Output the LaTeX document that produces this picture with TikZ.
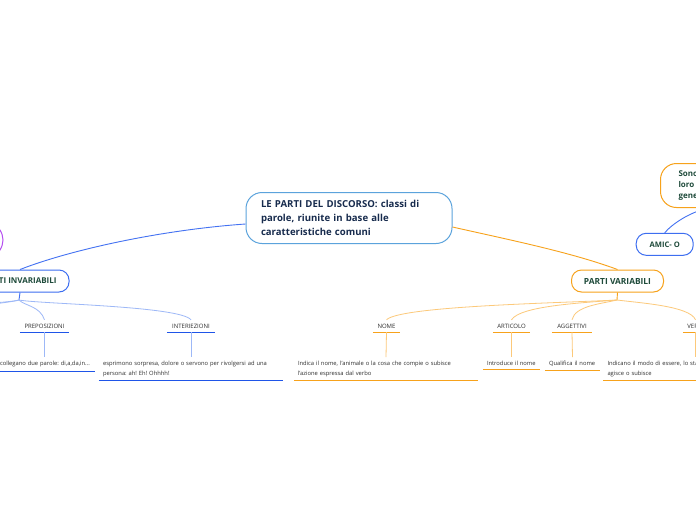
\documentclass[tikz,border=0pt]{standalone}
\usepackage{fontspec}
\setmainfont{Open Sans}
\frenchspacing
\usetikzlibrary{shapes.geometric}
\definecolor{bmain}{HTML}{4472F2}
\definecolor{bnode}{HTML}{3D6EF0}
\definecolor{bul}{HTML}{1F55E8}
\definecolor{blight}{HTML}{9DB8F7}
\definecolor{omain}{HTML}{F7A21B}
\definecolor{olight}{HTML}{FCC97A}
\definecolor{mainborder}{HTML}{5BA3DC}
\definecolor{navy}{HTML}{172B4D}
\definecolor{dgreen}{HTML}{1F4B3B}
\definecolor{tgray}{HTML}{2E2E2E}
\definecolor{purp}{HTML}{B44DF0}
\begin{document}
\begin{tikzpicture}[x=1pt,y=-1pt,
  topic/.style={draw, line width=1pt, rounded corners=10pt, inner sep=0pt,
    font=\fontsize{8}{11}\selectfont\bfseries, text=dgreen},
  topicB/.style={topic, draw=bnode},
  topicO/.style={topic, draw=omain},
  sub/.style={font=\fontsize{6}{7}\selectfont, text=tgray, minimum height=12pt, inner sep=0pt},
  desc/.style={font=\fontsize{5.8}{9.5}\selectfont, align=left, inner xsep=4pt, inner ysep=4pt, text=tgray, anchor=north},
  ulB/.style={draw=bul, line width=1.2pt},
  ulO/.style={draw=omain, line width=1.2pt},
  linkB/.style={draw=bmain, line width=0.9pt},
  linkO/.style={draw=omain, line width=0.9pt},
  lightB/.style={draw=blight, line width=0.8pt},
  lightO/.style={draw=olight, line width=0.8pt}]
\useasboundingbox (0,0) rectangle (696,520);
\clip (0,0) rectangle (696,520);
\fill[white] (0,0) rectangle (696,520);

% main node
\node[draw=mainborder, line width=1pt, rounded corners=16pt, minimum width=206pt, minimum height=51pt,
  inner xsep=15pt, align=left, text width=176pt, text=navy,
  font=\fontsize{9.6}{13.7}\selectfont\bfseries] (main) at (349,218)
  {LE PARTI DEL DISCORSO: classi di\\parole, riunite in base alle\\caratteristiche comuni};

% left side
\node[draw=purp, line width=1pt, ellipse, minimum width=86pt, minimum height=54pt] (purple) at (-40,240) {};
\node[topicB, minimum width=98pt, minimum height=22pt] (inv) at (20,281) {PARTI INVARIABILI};
\draw[linkB] ([yshift=-6pt]main.west) .. controls (160,230) and (70,250) .. (inv.north);

\coordinate (invs) at (19,300);
\draw[linkB] (inv.south) -- (invs);
\coordinate (offa) at (-60,318);
\coordinate (offb) at (-160,318);
\node[sub, minimum width=49pt] (prep) at (44.5,326) {PREPOSIZIONI};
\node[sub, minimum width=48pt] (inter) at (191,326) {INTERIEZIONI};
\draw[lightB] (invs) .. controls (10,303) and (-40,306) .. (offa);
\draw[lightB] (invs) .. controls (5,304) and (-100,307) .. (offb);
\draw[lightB] (invs) .. controls (25,306) and (40,306) .. (prep.north);
\draw[lightB] (invs) .. controls (40,304) and (180,306) .. (inter.north);
\draw[ulB] (prep.south west) -- (prep.south east);
\draw[ulB] (inter.south west) -- (inter.south east);

\node[desc, text width=91pt] (dprep) at (45.5,357) {collegano due parole: di,a,da,in...};
\node[desc, text width=176pt] (dinter) at (191,357) {esprimono sorpresa, dolore o servono per rivolgersi ad una\\persona: ah! Eh! Ohhhh!};
\draw[lightB] (prep.south) -- (prep.south |- dprep.north);
\draw[lightB] (inter.south) -- (dinter.north);
\draw[ulB] (dprep.south west) -- (dprep.south east);
\draw[ulB] (dinter.south west) -- (dinter.south east);

% right side
\node[topicO, minimum width=92pt, minimum height=22pt, font=\fontsize{8.4}{11}\selectfont\bfseries] (var) at (617.5,281) {PARTI VARIABILI};
\draw[linkO] ([yshift=-9pt]main.east) .. controls (510,240) and (570,252) .. (var.north);

\coordinate (vars) at (617,300);
\draw[linkO] (var.south) -- (vars);
\node[sub, minimum width=27pt] (nome) at (386.5,326) {NOME};
\node[sub, minimum width=37pt] (art) at (511.5,326) {ARTICOLO};
\node[sub, minimum width=40pt] (agg) at (572,326) {AGGETTIVI};
\node[sub, minimum width=25pt] (verbi) at (695.5,326) {VERBI};
\draw[lightO] (vars) .. controls (560,303) and (400,306) .. (nome.north);
\draw[lightO] (vars) .. controls (580,303) and (520,306) .. (art.north);
\draw[lightO] (vars) .. controls (600,304) and (575,306) .. (agg.north);
\draw[lightO] (vars) .. controls (640,303) and (690,306) .. (verbi.north);
\foreach \n in {nome,art,agg,verbi} \draw[ulO] (\n.south west) -- (\n.south east);

\node[desc, text width=176pt] (dnome) at (386,357) {Indica il nome, l'animale o la cosa che compie o subisce\\l'azione espressa dal verbo};
\node[desc, text width=49pt] (dart) at (511.5,357) {Introduce il nome};
\node[desc, text width=47pt] (dagg) at (572.5,357) {Qualifica il nome};
\node[desc, text width=176pt] (dverbi) at (695.5,357) {Indicano il modo di essere, lo stato\\agisce o subisce};
\foreach \a/\b in {nome/dnome,art/dart,agg/dagg,verbi/dverbi} {
  \draw[lightO] (\a.south) -- (\b.north);
  \draw[ulO] (\b.south west) -- (\b.south east);
}

% top right
\node[topicB, minimum width=57pt, minimum height=22pt, font=\fontsize{7.6}{11}\selectfont\bfseries] (amic) at (664.7,244.3) {AMIC- O};
\node[topicO, rounded corners=16pt, minimum height=44pt, text width=60pt, inner xsep=18pt, align=left,
  anchor=west] (sono) at (660,185.5) {Sono\\loro\\genere};
\draw[linkB] (amic.north) .. controls (672,224) and (690,212) .. (sono.south);
\end{tikzpicture}
\end{document}
